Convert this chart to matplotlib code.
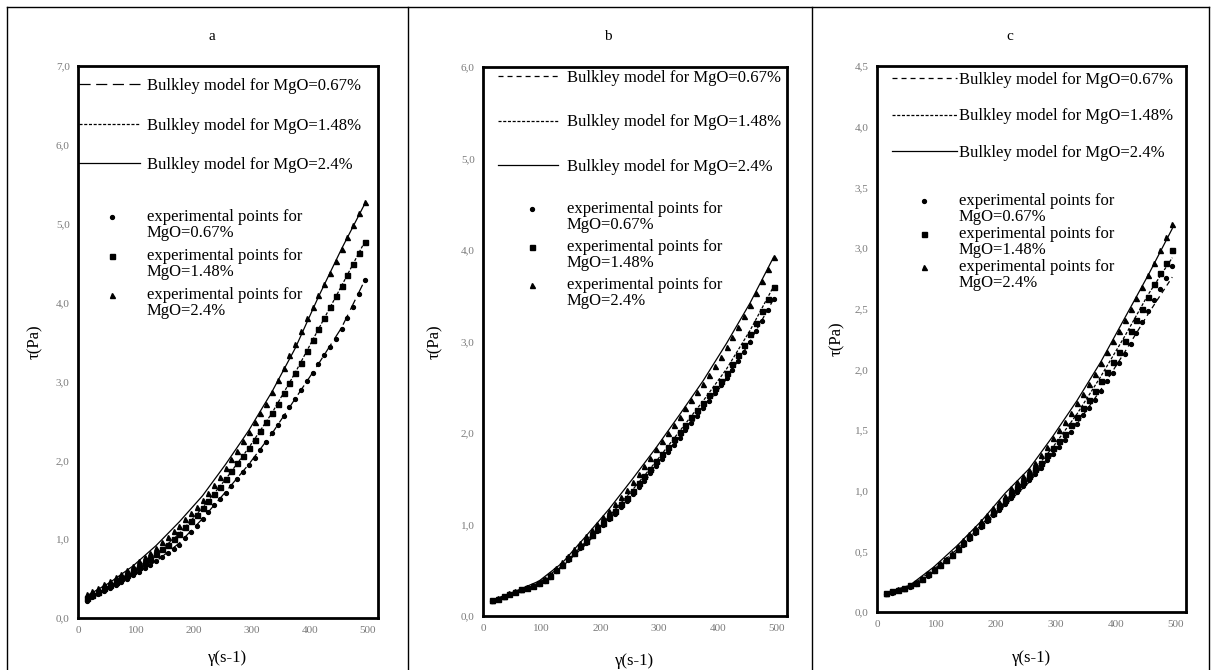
import matplotlib
matplotlib.use('agg')
import matplotlib.pyplot as plt
from matplotlib.lines import Line2D
from matplotlib.legend_handler import HandlerLine2D
from matplotlib.ticker import FuncFormatter, MultipleLocator

plt.rcParams['font.family'] = ['Liberation Serif', 'DejaVu Serif']
plt.rcParams['lines.scale_dashes'] = False

W, H = 1212, 670

# shear rate grid of the experimental points (s-1)
gamma_pts = list(range(15, 500, 10))
# shear rate grid of the model curves
gamma_model = list(range(15, 500, 40))

# ---- panel a ----
a_pts_067 = [0.22, 0.26, 0.30, 0.34, 0.38, 0.42, 0.46, 0.50, 0.54, 0.58,
             0.63, 0.67, 0.72, 0.77, 0.82, 0.87, 0.93, 1.01, 1.09, 1.17,
             1.25, 1.34, 1.43, 1.51, 1.59, 1.67, 1.76, 1.85, 1.94, 2.03,
             2.13, 2.23, 2.34, 2.45, 2.56, 2.67, 2.78, 2.89, 3.00, 3.11,
             3.22, 3.33, 3.44, 3.54, 3.67, 3.80, 3.95, 4.11, 4.28]
a_pts_148 = [0.25, 0.29, 0.33, 0.38, 0.42, 0.46, 0.51, 0.55, 0.60, 0.65,
             0.70, 0.75, 0.81, 0.87, 0.93, 1.00, 1.07, 1.15, 1.23, 1.31,
             1.39, 1.48, 1.57, 1.66, 1.76, 1.86, 1.96, 2.06, 2.16, 2.26,
             2.37, 2.48, 2.60, 2.72, 2.85, 2.98, 3.11, 3.24, 3.38, 3.52,
             3.66, 3.80, 3.94, 4.08, 4.21, 4.35, 4.49, 4.63, 4.77]
a_pts_24 = [0.30, 0.34, 0.38, 0.43, 0.47, 0.52, 0.56, 0.61, 0.66, 0.72,
            0.77, 0.83, 0.89, 0.96, 1.03, 1.10, 1.17, 1.25, 1.33, 1.41,
            1.50, 1.59, 1.69, 1.79, 1.90, 2.01, 2.12, 2.24, 2.36, 2.48,
            2.60, 2.72, 2.87, 3.02, 3.17, 3.33, 3.48, 3.64, 3.80, 3.94,
            4.09, 4.24, 4.38, 4.53, 4.68, 4.83, 4.98, 5.13, 5.28]
a_mod_067 = [0.21, 0.38, 0.54, 0.72, 0.95, 1.26, 1.60, 1.95, 2.34, 2.78, 3.22, 3.68, 4.28]
a_mod_148 = [0.24, 0.41, 0.60, 0.81, 1.07, 1.40, 1.76, 2.16, 2.60, 3.11, 3.66, 4.21, 4.77]
a_mod_24 = [0.28, 0.45, 0.66, 0.92, 1.22, 1.55, 1.95, 2.38, 2.87, 3.42, 4.07, 4.68, 5.25]

# ---- panel b ----
b_pts_067 = [0.16, 0.19, 0.21, 0.24, 0.26, 0.28, 0.31, 0.33, 0.35, 0.38,
             0.43, 0.49, 0.55, 0.61, 0.68, 0.74, 0.80, 0.87, 0.93, 0.99,
             1.06, 1.12, 1.19, 1.26, 1.33, 1.41, 1.48, 1.56, 1.64, 1.72,
             1.79, 1.87, 1.95, 2.03, 2.11, 2.19, 2.27, 2.35, 2.44, 2.52,
             2.60, 2.69, 2.79, 2.89, 3.00, 3.11, 3.22, 3.34, 3.46]
b_pts_148 = [0.17, 0.19, 0.22, 0.24, 0.26, 0.29, 0.31, 0.33, 0.36, 0.39,
             0.44, 0.50, 0.56, 0.63, 0.69, 0.76, 0.82, 0.89, 0.95, 1.02,
             1.08, 1.15, 1.22, 1.29, 1.37, 1.45, 1.53, 1.61, 1.69, 1.77,
             1.85, 1.93, 2.01, 2.09, 2.17, 2.25, 2.33, 2.41, 2.49, 2.57,
             2.66, 2.75, 2.85, 2.96, 3.08, 3.20, 3.33, 3.46, 3.60]
b_pts_24 = [0.17, 0.20, 0.22, 0.25, 0.27, 0.30, 0.32, 0.34, 0.37, 0.40,
            0.46, 0.52, 0.59, 0.66, 0.73, 0.80, 0.87, 0.94, 1.01, 1.08,
            1.15, 1.22, 1.30, 1.38, 1.46, 1.55, 1.64, 1.73, 1.82, 1.91,
            2.00, 2.09, 2.18, 2.27, 2.36, 2.45, 2.54, 2.63, 2.73, 2.83,
            2.94, 3.05, 3.16, 3.28, 3.40, 3.53, 3.66, 3.79, 3.92]
b_mod_067 = [0.16, 0.25, 0.36, 0.54, 0.78, 1.05, 1.32, 1.62, 1.93, 2.25, 2.59, 3.00, 3.46]
b_mod_148 = [0.17, 0.26, 0.37, 0.55, 0.81, 1.09, 1.38, 1.69, 2.02, 2.35, 2.70, 3.12, 3.60]
b_mod_24 = [0.17, 0.27, 0.38, 0.58, 0.87, 1.17, 1.50, 1.84, 2.20, 2.57, 2.98, 3.42, 3.92]

# ---- panel c ----
c_pts_067 = [0.15, 0.16, 0.18, 0.19, 0.21, 0.23, 0.26, 0.30, 0.34, 0.38,
             0.42, 0.46, 0.51, 0.55, 0.60, 0.65, 0.70, 0.75, 0.80, 0.84,
             0.89, 0.94, 0.99, 1.04, 1.09, 1.14, 1.19, 1.25, 1.30, 1.36,
             1.42, 1.48, 1.55, 1.62, 1.68, 1.75, 1.82, 1.90, 1.97, 2.05,
             2.13, 2.21, 2.30, 2.39, 2.48, 2.57, 2.66, 2.75, 2.85]
c_pts_148 = [0.16, 0.17, 0.18, 0.20, 0.22, 0.24, 0.27, 0.31, 0.35, 0.39,
             0.43, 0.47, 0.52, 0.57, 0.62, 0.67, 0.72, 0.77, 0.82, 0.87,
             0.92, 0.97, 1.02, 1.07, 1.12, 1.18, 1.23, 1.29, 1.35, 1.41,
             1.47, 1.54, 1.61, 1.68, 1.75, 1.82, 1.90, 1.98, 2.06, 2.14,
             2.23, 2.32, 2.41, 2.50, 2.60, 2.70, 2.79, 2.88, 2.98]
c_pts_24 = [0.16, 0.17, 0.19, 0.20, 0.22, 0.25, 0.28, 0.32, 0.36, 0.40,
            0.44, 0.49, 0.54, 0.59, 0.64, 0.69, 0.75, 0.80, 0.86, 0.91,
            0.96, 1.02, 1.07, 1.12, 1.17, 1.23, 1.29, 1.36, 1.43, 1.50,
            1.57, 1.64, 1.72, 1.80, 1.88, 1.96, 2.05, 2.14, 2.23, 2.32,
            2.41, 2.50, 2.59, 2.68, 2.78, 2.88, 2.98, 3.09, 3.20]
c_mod_067 = [0.15, 0.21, 0.34, 0.50, 0.69, 0.88, 1.07, 1.30, 1.55, 1.83, 2.14, 2.46, 2.76]
c_mod_148 = [0.16, 0.21, 0.35, 0.52, 0.72, 0.92, 1.12, 1.36, 1.63, 1.94, 2.27, 2.62, 2.92]
c_mod_24 = [0.16, 0.22, 0.37, 0.55, 0.75, 0.98, 1.18, 1.45, 1.74, 2.06, 2.42, 2.78, 3.16]

model_labels = ['Bulkley model for MgO=0.67%', 'Bulkley model for MgO=1.48%',
                'Bulkley model for MgO=2.4%']
point_labels = ['experimental points for\nMgO=0.67%', 'experimental points for\nMgO=1.48%',
                'experimental points for\nMgO=2.4%']

# layout, in pixels of the reference
panels = [
    dict(name='a', box=(78, 66, 378, 618), ymax=7.0, ystep=1.0, title_x=212,
         models=(a_mod_067, a_mod_148, a_mod_24), pts=(a_pts_067, a_pts_148, a_pts_24),
         dash1=(8, 4), ylab_x=43, xlab_y=650,
         leg1_top=78, leg1_ls=1.41, leg2_top=209, leg2_ls=0.42,
         hl=61, text_x=147, pad1=7),
    dict(name='b', box=(483, 67, 787, 616), ymax=6.0, ystep=1.0, title_x=608,
         models=(b_mod_067, b_mod_148, b_mod_24), pts=(b_pts_067, b_pts_148, b_pts_24),
         dash1=(3.6, 2.9), ylab_x=443, xlab_y=653,
         leg1_top=70, leg1_ls=1.71, leg2_top=201, leg2_ls=0.36,
         hl=60, text_x=567, pad1=9),
    dict(name='c', box=(877, 66, 1186, 612), ymax=4.5, ystep=0.5, title_x=1010,
         models=(c_mod_067, c_mod_148, c_mod_24), pts=(c_pts_067, c_pts_148, c_pts_24),
         dash1=(3.6, 2.9), ylab_x=845, xlab_y=650,
         leg1_top=72, leg1_ls=1.23, leg2_top=193, leg2_ls=0.05,
         hl=65, text_x=959, pad1=2),
]


class HandlerFirstLine(HandlerLine2D):
    # put the marker level with the first line of a two-line label
    def create_artists(self, legend, orig_handle, xdescent, ydescent,
                       width, height, fontsize, trans):
        arts = super().create_artists(legend, orig_handle, xdescent, ydescent,
                                      width, height, fontsize, trans)
        for a in arts:
            a.set_ydata([y + 0.5 * fontsize for y in a.get_ydata()])
        return arts


fig = plt.figure(figsize=(W / 100, H / 100), dpi=100)

# table frame around the three panels
for x in (7, 408, 812, 1209):
    fig.add_artist(Line2D([x / W, x / W], [0, 1 - 7 / H], color='black', lw=1.0))
fig.add_artist(Line2D([7 / W, 1209 / W], [1 - 7 / H, 1 - 7 / H], color='black', lw=1.0))

fs = 12
fs_px = fs * 100 / 72
comma = FuncFormatter(lambda v, pos: ('%.1f' % v).replace('.', ','))

for p in panels:
    x0, y0, x1, y1 = p['box']
    ax = fig.add_axes([x0 / W, 1 - y1 / H, (x1 - x0) / W, (y1 - y0) / H])
    ax.set_xlim(0, 518)
    ax.set_ylim(0, p['ymax'])
    ax.xaxis.set_major_locator(MultipleLocator(100))
    ax.yaxis.set_major_locator(MultipleLocator(p['ystep']))
    ax.yaxis.set_major_formatter(comma)
    ax.tick_params(length=0, labelsize=8, labelcolor='#7a7a7a', pad=6)
    for s in ax.spines.values():
        s.set_linewidth(2.0)
        s.set_color('black')

    styles = [dict(dashes=p['dash1']), dict(dashes=(2.2, 1.2)), dict(linestyle='-')]
    lines = []
    for ys, st, lab in zip(p['models'], styles, model_labels):
        ln, = ax.plot(gamma_model, ys, color='black', lw=0.9, label=lab, zorder=2, **st)
        lines.append(ln)

    marks = []
    for ys, (m, ms), lab in zip(p['pts'], [('o', 2.8), ('s', 3.6), ('^', 3.6)], point_labels):
        mk, = ax.plot(gamma_pts, ys, linestyle='none', marker=m, ms=ms, color='black',
                      label=lab, zorder=3)
        marks.append(mk)

    w = x1 - x0
    h = y1 - y0
    hl = p['hl'] / fs_px
    start1 = p['text_x'] - p['pad1'] - p['hl']
    leg1 = ax.legend(handles=lines, loc='upper left', frameon=False, fontsize=fs,
                     bbox_to_anchor=((start1 - x0) / w, 1 - (p['leg1_top'] - y0) / h),
                     borderpad=0, borderaxespad=0, handlelength=hl,
                     handletextpad=p['pad1'] / fs_px, labelspacing=p['leg1_ls'])
    ax.add_artist(leg1)
    pad2 = 35 - p['hl'] / 2
    start2 = p['text_x'] - pad2 - p['hl']
    leg2 = ax.legend(handles=marks, loc='upper left', frameon=False, fontsize=fs,
                     bbox_to_anchor=((start2 - x0) / w, 1 - (p['leg2_top'] - y0) / h),
                     borderpad=0, borderaxespad=0, handlelength=hl,
                     handletextpad=pad2 / fs_px, labelspacing=p['leg2_ls'],
                     handler_map={Line2D: HandlerFirstLine()})
    for t in leg2.get_texts():
        t.set_linespacing(1.0)

    ax.set_xlabel('γ(s-1)', fontsize=fs)
    ax.xaxis.set_label_coords(0.5, -(p['xlab_y'] - y1) / h)
    ax.set_ylabel('τ(Pa)', fontsize=fs)
    ax.yaxis.set_label_coords(-(x0 - p['ylab_x']) / w, 0.5)

    fig.text(p['title_x'] / W, 1 - 37 / H, p['name'], ha='center', va='center', fontsize=11)

fig.savefig('out.png', dpi=100)
